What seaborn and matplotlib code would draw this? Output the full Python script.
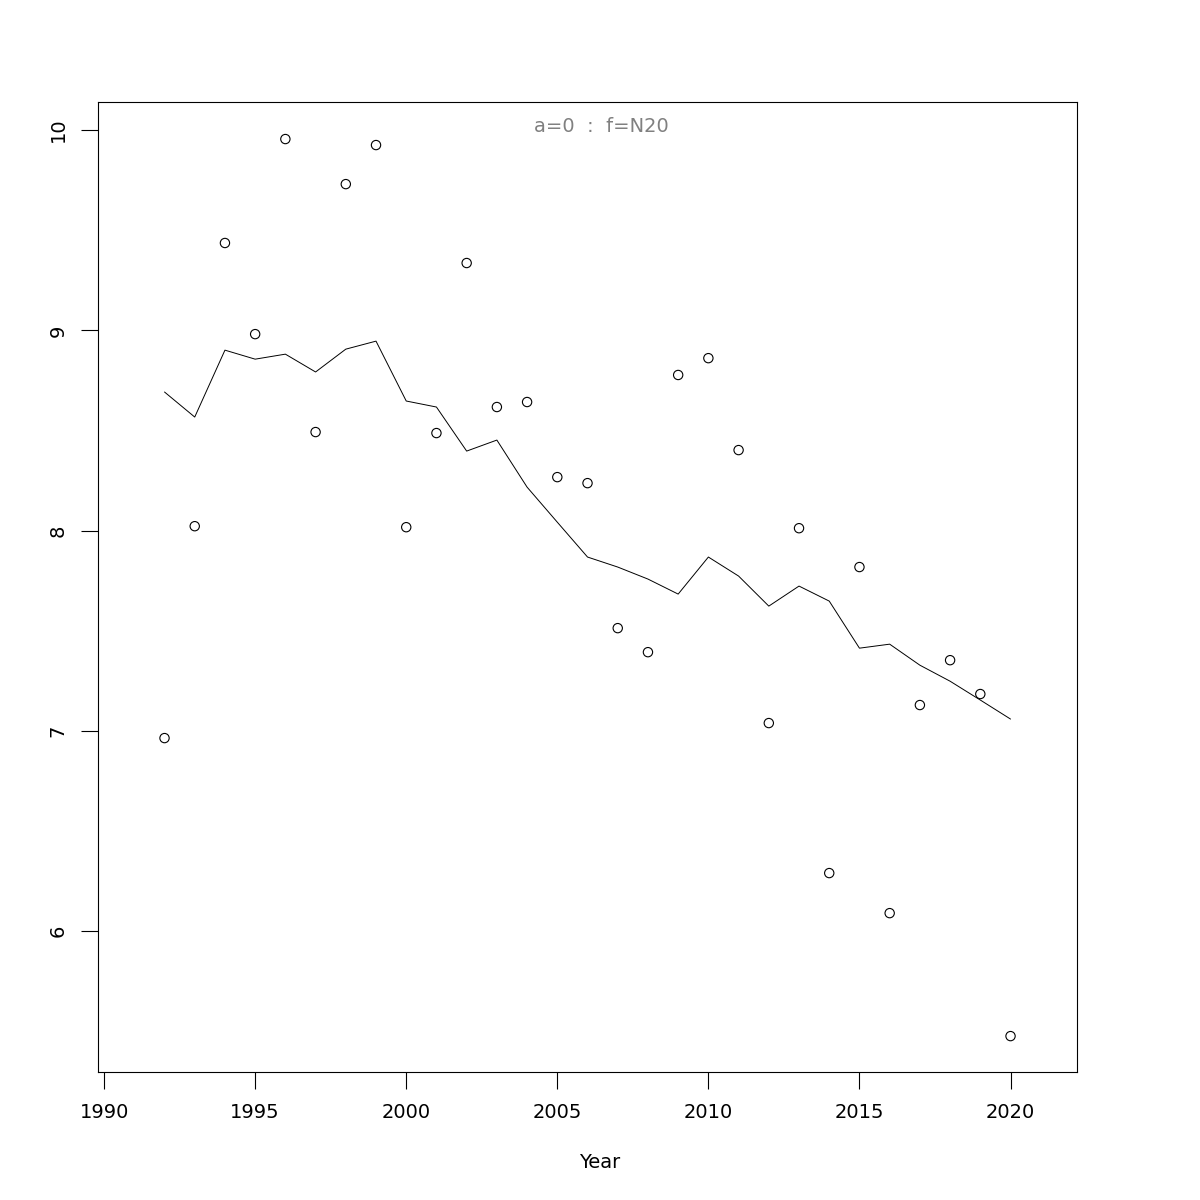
import numpy as np
import pandas as pd
import matplotlib
matplotlib.use('Agg')
import matplotlib.pyplot as plt
import seaborn as sns

# data
years = list(range(1992, 2021))
observed = [6.964, 8.022, 9.436, 8.981, 9.955, 8.492, 9.730, 9.925, 8.017, 8.487,
            9.336, 8.617, 8.642, 8.267, 8.237, 7.513, 7.393, 8.777, 8.861, 8.402,
            7.039, 8.012, 6.290, 7.818, 6.090, 7.129, 7.353, 7.184, 5.476]
fitted = [8.692, 8.567, 8.901, 8.856, 8.881, 8.792, 8.906, 8.946, 8.647, 8.617,
          8.397, 8.452, 8.217, 8.042, 7.868, 7.818, 7.758, 7.683, 7.868, 7.773,
          7.623, 7.723, 7.648, 7.413, 7.433, 7.328, 7.248, 7.154, 7.059]
x_ticks = [1990, 1995, 2000, 2005, 2010, 2015, 2020]
y_ticks = [6, 7, 8, 9, 10]

df = pd.DataFrame({'Year': years, 'obs': observed, 'fit': fitted})

sns.set_style('white')
plt.rcParams['font.family'] = ['DejaVu Sans']
plt.rcParams['text.color'] = 'black'

fig = plt.figure(figsize=(12, 12), dpi=100)
ax = fig.add_axes([0.0817, 0.1067, 0.8158, 0.8083])

sns.scatterplot(x='Year', y='obs', data=df, ax=ax, marker='o', s=45,
                facecolor='none', edgecolor='black', linewidth=0.8)
sns.lineplot(x='Year', y='fit', data=df, ax=ax, color='black', linewidth=0.7)

ax.set_xlim(1989.8, 2022.2)
ax.set_ylim(5.297, 10.14)
ax.set_xticks(x_ticks)
ax.set_yticks(y_ticks)
ax.set_yticklabels([str(v) for v in y_ticks], rotation=90, va='center')
ax.tick_params(axis='both', direction='out', length=12, width=0.8,
               labelsize=14, pad=10, colors='black', labelcolor='black',
               left=True, bottom=True)
for s in ax.spines.values():
    s.set_visible(True)
    s.set_color('black')
    s.set_linewidth(0.8)

ax.set_xlabel('')
ax.set_ylabel('')
fig.text(600 / 1200, 1 - 1162 / 1200, 'Year', ha='center', va='center',
         fontsize=14, color='black')
fig.text(601 / 1200, 1 - 127 / 1200, 'a=0  :  f=N20', ha='center',
         va='center', fontsize=14, color='grey')

plt.savefig('out.png', dpi=100)
